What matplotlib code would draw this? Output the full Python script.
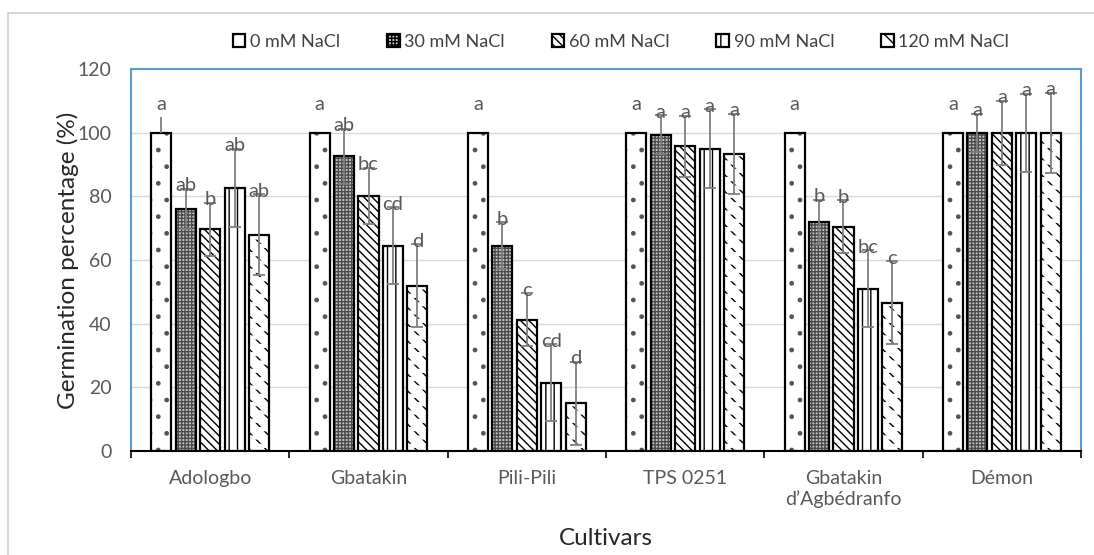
import matplotlib
matplotlib.use("Agg")
import matplotlib.pyplot as plt
import numpy as np
from matplotlib.patches import Patch, Rectangle

plt.rcParams['font.family'] = ['Lato', 'DejaVu Sans']
plt.rcParams['hatch.linewidth'] = 1.0

cultivars = ["Adologbo", "Gbatakin", "Pili-Pili", "TPS 0251", "Gbatakin\nd\u2019Agb\u00e9dranfo", "D\u00e9mon"]
series = ["0 mM NaCl", "30 mM NaCl", "60 mM NaCl", "90 mM NaCl", "120 mM NaCl"]

means_0 = [100, 100, 100, 100, 100, 100]
means_30 = [76, 92.6, 64.5, 99.4, 71.9, 100]
means_60 = [69.7, 80.2, 41.2, 95.7, 70.5, 100]
means_90 = [82.7, 64.5, 21.5, 95.0, 51.0, 100]
means_120 = [68.0, 51.9, 15.0, 93.4, 46.6, 100]

err_0 = [5, 0, 0, 0, 0, 0]
err_30 = [6.4, 8.7, 7.4, 6.0, 7.0, 6.0]
err_60 = [8.3, 8.8, 8.3, 9.6, 8.3, 10.0]
err_90 = [12.3, 12.0, 12.0, 12.4, 12.0, 12.3]
err_120 = [12.6, 13.0, 13.0, 12.6, 13.0, 12.6]

letters_0 = ["a", "a", "a", "a", "a", "a"]
letters_30 = ["ab", "ab", "b", "a", "b", "a"]
letters_60 = ["b", "bc", "c", "a", "b", "a"]
letters_90 = ["ab", "cd", "cd", "a", "bc", "a"]
letters_120 = ["ab", "d", "d", "a", "c", "a"]

means = [means_0, means_30, means_60, means_90, means_120]
errs = [err_0, err_30, err_60, err_90, err_120]
letters = [letters_0, letters_30, letters_60, letters_90, letters_120]

styles = [
    dict(facecolor="white", hatch=".", hcolor="#555555", cut=False),
    dict(facecolor="#c4c4c4", hatch="+++++", hcolor="#4a4a4a", cut=False),
    dict(facecolor="white", hatch="\\\\\\\\", hcolor="black", cut=False),
    dict(facecolor="white", hatch="||", hcolor="black", cut=False),
    dict(facecolor="white", hatch="\\\\", hcolor="black", cut=True),
]

fig = plt.figure(figsize=(10.94, 5.55), dpi=100)
ax = fig.add_axes([131/1094, 1-451/555, (1081-131)/1094, (451-69)/555])

x = np.arange(len(cultivars))
pitch = 0.1545
width = 0.127
offsets = (np.arange(5) - 2) * pitch

for i in range(5):
    st = styles[i]
    xs = x + offsets[i]
    ax.bar(xs, means[i], width, facecolor=st["facecolor"], hatch=st["hatch"],
           edgecolor=st["hcolor"], linewidth=0, zorder=2)
    if st["cut"]:
        with plt.rc_context({"hatch.linewidth": 3.0}):
            ax.bar(xs, means[i], width, fill=False, hatch="--",
                   edgecolor="white", linewidth=0, zorder=2.5)
    ax.bar(xs, means[i], width, fill=False, edgecolor="black", linewidth=1.6, zorder=3)
    e = np.array(errs[i], dtype=float)
    mask = e > 0
    if i == 0:
        ax.errorbar(xs[mask], np.array(means[i])[mask], yerr=[np.zeros(mask.sum()), e[mask]],
                    fmt="none", ecolor="#7f7f7f", elinewidth=1.3, capsize=0, zorder=4)
    else:
        ax.errorbar(xs[mask], np.array(means[i])[mask], yerr=e[mask], fmt="none",
                    ecolor="#7f7f7f", elinewidth=1.3, capsize=4, capthick=1.3, zorder=4)
    for j in range(len(cultivars)):
        if i == 0:
            ytxt = means[i][j] + 7
        else:
            ytxt = means[i][j] + errs[i][j] - 0.8
        ax.text(xs[j], ytxt, letters[i][j], ha="center", va="baseline",
                fontsize=14.5, color="#595959", zorder=5)

ax.set_xlim(-0.5, len(cultivars) - 0.5)
ax.set_ylim(0, 120)
ax.set_yticks(np.arange(0, 121, 20))
ax.yaxis.grid(True, color="#d9d9d9", linewidth=1.0, zorder=0)
ax.set_axisbelow(True)
ax.tick_params(axis="y", length=0, labelsize=14, labelcolor="#595959", pad=14)
ax.set_xticks(x)
ax.set_xticklabels(cultivars)
ax.tick_params(axis="x", which="major", length=0, labelsize=14, labelcolor="#595959", pad=14)
ax.set_xticks(np.arange(-0.5, len(cultivars), 1), minor=True)
ax.tick_params(axis="x", which="minor", length=5, width=1.2, color="black", direction="out")

for s in ["left", "top", "right"]:
    ax.spines[s].set_color("#5b9bd5")
    ax.spines[s].set_linewidth(1.5)
ax.spines["bottom"].set_color("black")
ax.spines["bottom"].set_linewidth(1.5)
ax.spines["bottom"].set_zorder(6)

ax.set_ylabel("Germination percentage (%)", fontsize=17.5, color="#262626", labelpad=-1)
ax.set_xlabel("Cultivars", fontsize=17.5, color="#262626", labelpad=14)

handles = [Patch(facecolor=s["facecolor"], hatch=s["hatch"], edgecolor="black", linewidth=1.6)
           for s in styles]
fig.legend(handles, series, loc="center", bbox_to_anchor=(621/1094, 1-42/555), ncol=5,
           frameon=False, fontsize=13, handlelength=0.7, handleheight=0.7,
           handletextpad=0.25, columnspacing=2.6, labelcolor="#404040")

fig.patches.append(Rectangle((8/1094, -0.05), 1.05, 1 - 13/555 + 0.05, transform=fig.transFigure,
                             fill=False, edgecolor="#d0d0d0", linewidth=1.2, zorder=-1))

fig.savefig("out.png", dpi=100)
